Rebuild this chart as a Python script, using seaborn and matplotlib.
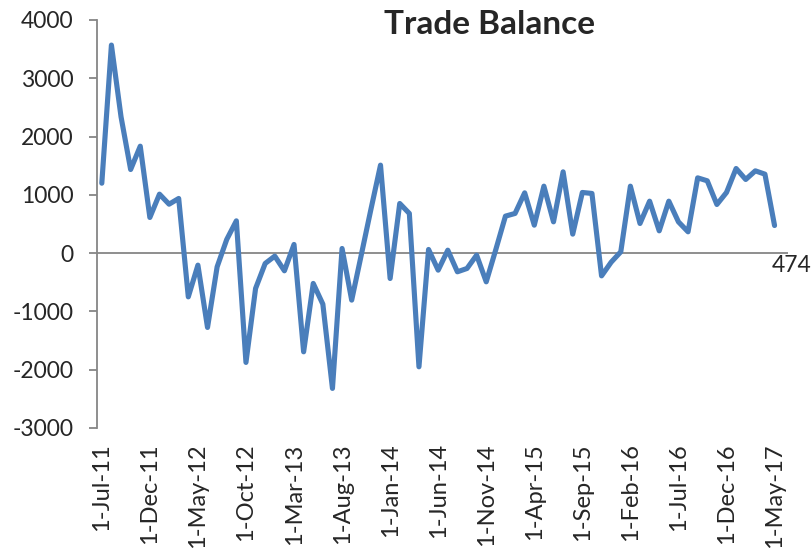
import matplotlib
matplotlib.use("Agg")
import matplotlib.pyplot as plt
import seaborn as sns
import pandas as pd

months_idx = list(range(71))
balance = [1200, 3570, 2340, 1435, 1835, 612, 1012, 840, 938, -750,
           -206, -1275, -235, 235, 554, -1875, -606, -177, -51, -303,
           149, -1693, -520, -875, -2321, 80, -806, -30, 750, 1510,
           -435, 852, 681, -1950, 63, -292, 51, -320, -263, -34,
           -492, 63, 635, 681, 1035, 480, 1149, 537, 1395, 326,
           1041, 1024, -390, -155, 23, 1149, 509, 892, 383, 892,
           537, 366, 1292, 1241, 835, 1041, 1452, 1264, 1412, 1355,
           474]
tick_labels = ["1-Jul-11", "1-Dec-11", "1-May-12", "1-Oct-12", "1-Mar-13",
               "1-Aug-13", "1-Jan-14", "1-Jun-14", "1-Nov-14", "1-Apr-15",
               "1-Sep-15", "1-Feb-16", "1-Jul-16", "1-Dec-16", "1-May-17"]
tick_pos = list(range(0, 71, 5))
y_ticks = [-3000, -2000, -1000, 0, 1000, 2000, 3000, 4000]
last_label = "474"

sns.set_style("white")
plt.rcParams['font.family'] = ['Lato', 'DejaVu Sans']

df = pd.DataFrame({"month": months_idx, "balance": balance})

fig = plt.figure(figsize=(8.12, 5.5), dpi=100)
ax = fig.add_axes([97/812, 1-428/550, (788-97)/812, (428-20)/550])

sns.lineplot(data=df, x="month", y="balance", ax=ax, color="#4A7EBB",
             linewidth=3.7, zorder=3)

ax.axhline(0, color="#868686", linewidth=1.3, zorder=1)
ax.set_xlim(-0.5, 71.4)
ax.set_ylim(-3000, 4000)
ax.set_yticks(y_ticks)
ax.set_yticklabels([str(v) for v in y_ticks], fontsize=16.5)
ax.set_xticks(tick_pos)
ax.set_xticklabels(tick_labels, rotation=90, fontsize=17)
ax.tick_params(axis="x", length=0, pad=11)
ax.tick_params(axis="y", length=6, width=1.3, color="#868686", pad=11, left=True)
for s in ["top", "right", "bottom"]:
    ax.spines[s].set_visible(False)
ax.spines["left"].set_color("#868686")
ax.spines["left"].set_linewidth(1.3)
ax.set_xlabel("")
ax.set_ylabel("")
ax.grid(False)

ax.annotate(last_label, xy=(months_idx[-1], balance[-1]), xytext=(17, -40),
            textcoords="offset pixels", ha="center", va="center", fontsize=16.5)

fig.text(490/812, 1-25/550, "Trade Balance", ha="center", va="center",
         fontsize=24, fontweight="bold")

fig.savefig("out.png", dpi=100)
